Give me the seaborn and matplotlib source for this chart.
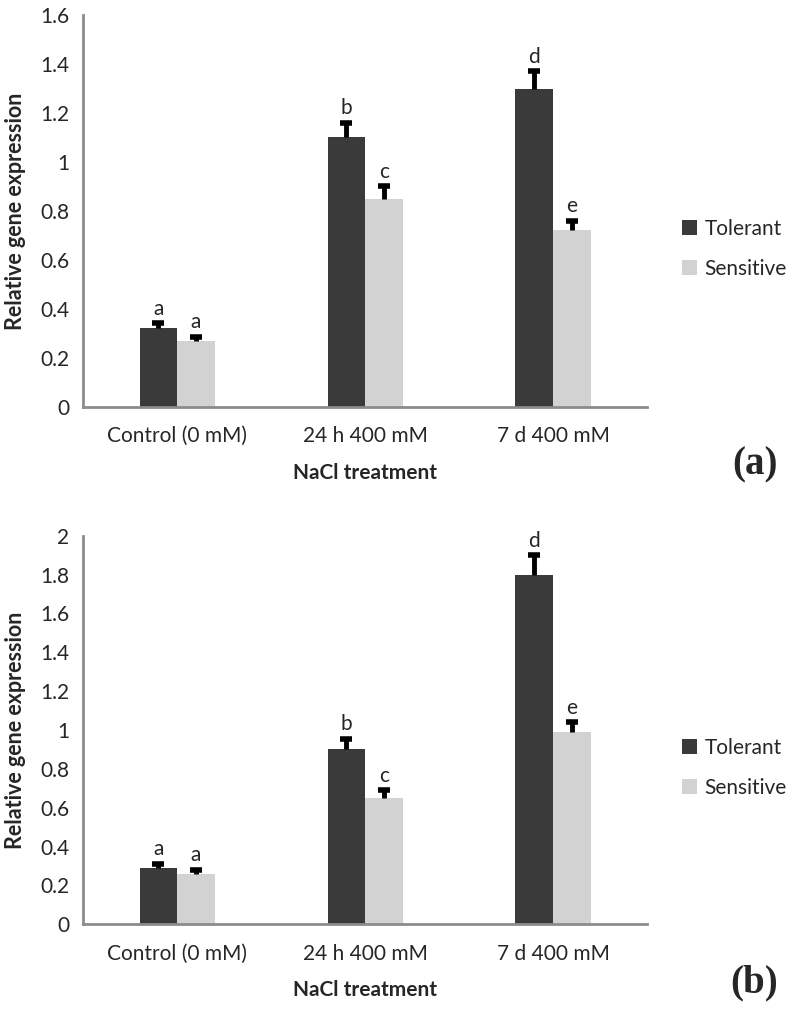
import numpy as np
import pandas as pd
import seaborn as sns
import matplotlib.pyplot as plt

# ==============================================================================
# DATOS
# ==============================================================================
treatments = ["Control (0 mM)", "24 h 400 mM", "7 d 400 mM"]
genotypes = ["Tolerant", "Sensitive"]

# panel (a)
tol_a = [0.32, 1.10, 1.30]
sen_a = [0.27, 0.85, 0.72]
tol_a_err = [0.02, 0.06, 0.07]
sen_a_err = [0.015, 0.05, 0.04]
letters_a_tol = ["a", "b", "d"]
letters_a_sen = ["a", "c", "e"]

# panel (b)
tol_b = [0.29, 0.90, 1.80]
sen_b = [0.26, 0.65, 0.99]
tol_b_err = [0.02, 0.055, 0.10]
sen_b_err = [0.02, 0.04, 0.05]
letters_b_tol = ["a", "b", "d"]
letters_b_sen = ["a", "c", "e"]

sns.set_style("white")
plt.rcParams['font.family'] = ['Lato', 'DejaVu Sans']

colors = {"Tolerant": "#3a3a3a", "Sensitive": "#d2d2d2"}
axis_gray = "#8c8c8c"

fig = plt.figure(figsize=(7.86, 10.09), dpi=100)


def draw_panel(rect, tol, sen, tol_err, sen_err, let_tol, let_sen, ymax, yticks, tag):
    ax = fig.add_axes(rect)
    df = pd.DataFrame({
        "treatment": treatments * 2,
        "genotype": ["Tolerant"] * 3 + ["Sensitive"] * 3,
        "value": tol + sen,
    })
    sns.barplot(data=df, x="treatment", y="value", hue="genotype",
                order=treatments, hue_order=genotypes, palette=colors,
                width=0.4, errorbar=None, saturation=1, ax=ax,
                edgecolor="none", linewidth=0)

    # barras de error solo hacia arriba (estilo Excel): línea + tapa superior
    errs = tol_err + sen_err
    labels = let_tol + let_sen
    vals = tol + sen
    for patch, v, e, lab in zip(ax.patches[:6], vals, errs, labels):
        cx = patch.get_x() + patch.get_width() / 2
        ax.vlines(cx, v, v + e, color="black", linewidth=3.5, zorder=4)
        ax.plot([cx], [v + e], marker="_", markersize=9, mew=4,
                color="black", zorder=4)
        ax.text(cx, v + e + ymax * 0.012, lab, ha="center", va="bottom",
                fontsize=15)

    ax.set_ylim(0, ymax)
    ax.set_xlim(-0.5, 2.5)
    ax.set_yticks(yticks)
    ax.set_yticklabels([f"{t:g}" for t in yticks], fontsize=15)
    ax.tick_params(axis="y", direction="out", length=6, color=axis_gray, width=1.5, pad=4)
    ax.tick_params(axis="x", length=0, labelsize=15, pad=14)
    ax.set_xlabel("NaCl treatment", fontsize=15, fontweight="bold", labelpad=12)
    ax.set_ylabel("Relative gene expression", fontsize=15.5, fontweight="bold", labelpad=10)

    sns.despine(ax=ax)
    for side in ["left", "bottom"]:
        ax.spines[side].set_color(axis_gray)
        ax.spines[side].set_linewidth(2)

    leg = ax.legend(loc="center left", bbox_to_anchor=(1.062, 0.403), frameon=False,
                    fontsize=15, handlelength=0.75, handleheight=0.75,
                    handletextpad=0.35, labelspacing=0.95,
                    borderaxespad=0, borderpad=0)
    for h in leg.legend_handles:
        h.set_edgecolor("none")

    fig.text(0.99, rect[1] - 0.058, tag, ha="right", va="center",
             fontsize=28, fontweight="bold", family="Liberation Serif")
    return ax


draw_panel([0.106, 0.597, 0.717, 0.388], tol_a, sen_a, tol_a_err, sen_a_err,
           letters_a_tol, letters_a_sen, 1.6, np.arange(0, 1.61, 0.2), "(a)")
draw_panel([0.106, 0.084, 0.717, 0.385], tol_b, sen_b, tol_b_err, sen_b_err,
           letters_b_tol, letters_b_sen, 2.0, np.arange(0, 2.01, 0.2), "(b)")

plt.savefig("out.png", dpi=100)
plt.close()
